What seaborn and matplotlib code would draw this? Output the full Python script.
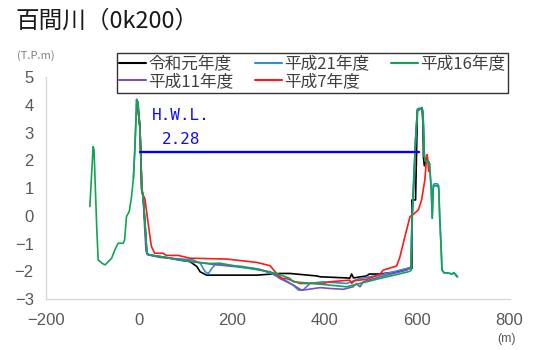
import matplotlib
matplotlib.use("Agg")
import matplotlib.pyplot as plt
import seaborn as sns
import pandas as pd
from matplotlib.lines import Line2D

# Cross-section survey of 百間川 at 0k200: distance (m) vs elevation (T.P.m)
SERIES = ["令和元年度", "平成21年度", "平成16年度", "平成11年度", "平成7年度"]
COLORS = {
    "令和元年度": "#000000",
    "平成21年度": "#2f8fd8",
    "平成16年度": "#0fa552",
    "平成11年度": "#7d4fc0",
    "平成7年度": "#ff1a1a",
}

r1_x = [-5, -3, 2, 4, 6, 9, 13, 17, 22, 45, 67, 110, 125, 132, 146, 189, 254, 304, 326,
        384, 391, 448, 455, 459, 463, 491, 497, 520, 556, 581, 589, 589, 597, 601, 611,
        613, 614, 616, 619, 624, 627]
r1_y = [4.17, 4.0, 3.2, 2.13, 0.93, 0.69, -0.27, -1.35, -1.41, -1.47, -1.53, -1.65, -1.83,
        -2.02, -2.14, -2.14, -2.14, -2.08, -2.08, -2.17, -2.2, -2.24, -2.25, -2.1, -2.24,
        -2.17, -2.1, -2.1, -2.02, -1.9, -1.9, 0.57, 0.57, 3.8, 3.87, 3.3, 2.1, 1.8, 1.95,
        1.98, 1.87]

h21_x = [-12, -9, -5, -3, 2, 4, 6, 9, 13, 17, 22, 45, 67, 117, 132, 143, 150, 157, 165,
         220, 261, 304, 333, 344, 354, 369, 397, 448, 477, 520, 578, 587, 589, 592, 597,
         601, 611, 613, 616, 619, 624, 627, 631, 633, 635, 637, 644, 647, 649, 652, 654,
         658, 669, 676, 680, 686]
h21_y = [1.35, 2.37, 4.2, 4.05, 3.2, 2.13, 0.93, 0.69, -0.27, -1.35, -1.41, -1.47, -1.53,
         -1.59, -1.71, -2.02, -2.08, -1.9, -1.75, -1.82, -1.93, -2.2, -2.5, -2.68, -2.68,
         -2.44, -2.38, -2.44, -2.26, -2.14, -1.9, -1.85, -0.27, 0.93, 2.73, 3.85, 3.9, 3.7,
         2.14, 1.95, 1.98, 1.87, 0.93, -0.09, 1.1, 1.15, 1.15, 1.08, 0.0, -1.1, -1.95,
         -2.05, -2.07, -2.1, -2.05, -2.2]

h16_x = [-106, -99, -97, -91, -88, -80, -73, -59, -52, -45, -34, -31, -27, -21, -16, -12,
         -9, -7, -5, -2, 2, 4, 6, 9, 13, 17, 22, 45, 67, 85, 110, 153, 175, 220, 261, 297,
         326, 333, 376, 412, 448, 477, 520, 581, 587, 589, 592, 597, 601, 611, 613, 616,
         619, 624, 627, 631, 633, 635, 637, 644, 647, 649, 652, 654, 658, 669, 676, 680,
         688]
h16_y = [0.33, 2.49, 2.37, -0.51, -1.59, -1.71, -1.77, -1.53, -1.23, -0.99, -0.99, -0.87,
         -0.03, 0.15, 0.69, 1.35, 2.37, 3.2, 4.17, 4.1, 3.2, 2.13, 0.93, 0.69, -0.27, -1.35,
         -1.41, -1.47, -1.53, -1.6, -1.65, -1.72, -1.71, -1.85, -1.96, -2.08, -2.26, -2.38,
         -2.44, -2.5, -2.56, -2.44, -2.26, -2.02, -1.98, -0.27, 0.93, 2.73, 3.8, 3.87, 3.7,
         2.14, 1.95, 1.98, 1.87, 0.93, -0.09, 0.99, 1.08, 1.08, 0.99, 0.0, -1.1, -1.95,
         -2.05, -2.07, -2.1, -2.05, -2.2]

h11_x = [-5, -3, 2, 4, 6, 9, 11, 15, 18, 45, 67, 153, 247, 283, 304, 326, 333, 351, 362,
         391, 412, 441, 462, 469, 477, 484, 520, 578, 587, 590, 593, 597, 601, 611, 613,
         616, 619, 624, 627]
h11_y = [4.17, 4.0, 3.2, 2.13, 0.93, 0.69, -0.03, -1.23, -1.4, -1.5, -1.53, -1.74, -1.9,
         -2.02, -2.26, -2.44, -2.5, -2.68, -2.66, -2.59, -2.62, -2.65, -2.56, -2.45, -2.56,
         -2.38, -2.2, -1.96, -1.85, 0.0, 1.0, 2.73, 3.8, 3.87, 3.7, 2.14, 1.95, 1.98, 1.87]

h7_x = [-3, 2, 4, 6, 9, 13, 20, 25, 27, 34, 52, 59, 85, 110, 189, 254, 283, 297, 308, 318,
        347, 397, 412, 455, 459, 465, 491, 520, 527, 556, 563, 574, 585, 592, 603, 610,
        617, 621, 622, 624, 625]
h7_y = [4.1, 3.2, 2.2, 1.0, 0.75, 0.6, -0.3, -0.9, -1.11, -1.35, -1.35, -1.43, -1.43,
        -1.53, -1.56, -1.68, -1.8, -2.08, -2.26, -2.26, -2.44, -2.44, -2.38, -2.32, -2.44,
        -2.34, -2.29, -2.11, -1.96, -1.81, -1.5, -0.75, -0.03, 0.05, 0.21, 0.57, 1.29,
        2.13, 2.2, 1.95, 1.6]

# High water level
HWL = 2.28
HWL_X = [2, 604]

X_TICKS = [-200, 0, 200, 400, 600, 800]
Y_TICKS = [-3, -2, -1, 0, 1, 2, 3, 4, 5]

profiles = {
    "令和元年度": (r1_x, r1_y),
    "平成21年度": (h21_x, h21_y),
    "平成16年度": (h16_x, h16_y),
    "平成11年度": (h11_x, h11_y),
    "平成7年度": (h7_x, h7_y),
}
frames = []
for name, (xs, ys) in profiles.items():
    frames.append(pd.DataFrame({"distance": xs, "elevation": ys, "year": name}))
df = pd.concat(frames, ignore_index=True)

sns.set_style("white")
plt.rcParams["font.family"] = ["Noto Sans CJK JP", "DejaVu Sans"]

fig = plt.figure(figsize=(5.41, 3.5), dpi=100)
ax = fig.add_axes([0.0856, 0.1457, 0.8564, 0.6343])

# draw order: green on top
draw_order = ["令和元年度", "平成21年度", "平成11年度", "平成7年度", "平成16年度"]
sns.lineplot(data=df, x="distance", y="elevation", hue="year", hue_order=draw_order,
             palette=COLORS, sort=False, estimator=None, units="year",
             linewidth=1.2, ax=ax, legend=False)

ax.plot(HWL_X, [HWL, HWL], color="#0000ff", linewidth=1.7)
txt_font = ["DejaVu Sans Mono"]
ax.text(28, 3.63, "H.W.L.", color="#1010ee", fontsize=11.5, family=txt_font,
        va="center", ha="left")
ax.text(50, 2.75, f"{HWL:.2f}", color="#1010ee", fontsize=11.5, family=txt_font,
        va="center", ha="left")

ax.set_xlim(-200, 800)
ax.set_ylim(-3, 5)
ax.set_xticks(X_TICKS)
ax.set_yticks(Y_TICKS)
ax.set_xlabel("")
ax.set_ylabel("")
tick_font = ["Liberation Sans", "DejaVu Sans"]
for lab in ax.get_xticklabels() + ax.get_yticklabels():
    lab.set_family(tick_font)
    lab.set_fontsize(12)
    lab.set_color("#595959")
ax.tick_params(axis="both", length=0)
ax.tick_params(axis="y", pad=9)
ax.tick_params(axis="x", pad=10)
for side in ["top", "right"]:
    ax.spines[side].set_visible(False)
for side in ["left", "bottom"]:
    ax.spines[side].set_color("#d9d9d9")
    ax.spines[side].set_linewidth(1.0)

# legend laid out row by row
legend_seq = ["令和元年度", "平成11年度", "平成21年度", "平成7年度", "平成16年度"]
handles = [Line2D([], [], color=COLORS[n], linewidth=1.5) for n in legend_seq]
leg = fig.legend(handles, legend_seq, ncol=3, loc="upper right",
                 bbox_to_anchor=(508 / 541, 1 - 53 / 350), fontsize=12,
                 frameon=True, fancybox=False, borderaxespad=0, borderpad=0.15,
                 labelspacing=0.05, handlelength=1.6, handletextpad=0.15,
                 columnspacing=1.3)
leg.get_frame().set_edgecolor("#000000")
leg.get_frame().set_linewidth(1.0)
for t in leg.get_texts():
    t.set_color("#404040")

fig.text(15 / 541, 1 - 21 / 350, "百間川（0k200）", fontsize=17, color="#1a1a1a",
         va="center", ha="left")
fig.text(17 / 541, 1 - 56 / 350, "(T.P.m)", fontsize=8, color="#808080",
         va="center", ha="left")
fig.text(507 / 541, 1 - 339 / 350, "(m)", fontsize=9, color="#595959",
         va="center", ha="center", family=tick_font)

fig.savefig("out.png", dpi=100)
